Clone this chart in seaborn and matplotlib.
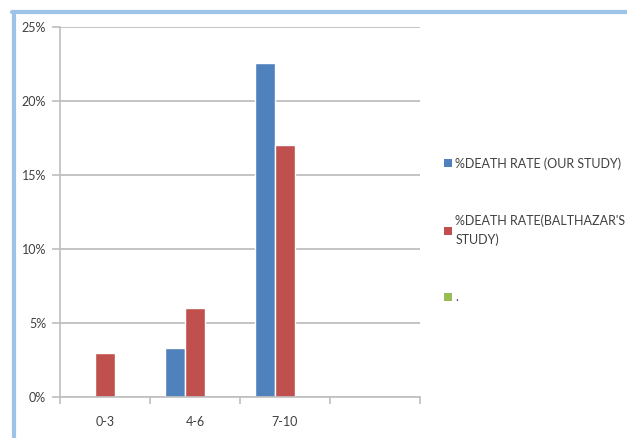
import matplotlib
matplotlib.use("Agg")
import matplotlib.pyplot as plt
import seaborn as sns
import pandas as pd
import numpy as np
from matplotlib.patches import Patch
from matplotlib.lines import Line2D
from matplotlib.ticker import PercentFormatter, FixedLocator

# Score groups on the x axis (the last slot is left empty)
groups = ["0-3", "4-6", "7-10", " "]
# Death rate in percent for each group
our_study = [0.0, 3.3, 22.6, np.nan]
balthazar_study = [3.0, 6.0, 17.0, np.nan]
blank_series = [np.nan, np.nan, np.nan, np.nan]

series_names = ["%DEATH RATE (OUR STUDY)", "%DEATH RATE(BALTHAZAR'S\nSTUDY)", "."]
colors = ["#4F81BD", "#C0504D", "#9BBB59"]

df = pd.DataFrame({
    "group": groups * 3,
    "rate": our_study + balthazar_study + blank_series,
    "series": [series_names[0]] * 4 + [series_names[1]] * 4 + [series_names[2]] * 4,
})

sns.set_theme(style="white")
plt.rcParams["font.family"] = ["Lato", "DejaVu Sans"]
text_color = "#404040"
fs = 9.0

fig = plt.figure(figsize=(6.27, 4.38), dpi=100)
W, H = 627, 438
ax = fig.add_axes([60 / W, 1 - 397 / H, 360 / W, 370 / H])

sns.barplot(data=df, x="group", y="rate", hue="series", order=groups,
            hue_order=series_names, palette=colors, width=2 / 3,
            saturation=1, legend=False, ax=ax, errorbar=None)

ax.set_xlim(-0.5, 3.5)
ax.set_ylim(0, 25)
ax.set_yticks(range(0, 26, 5))
ax.yaxis.set_major_formatter(PercentFormatter(100, decimals=0))
ax.set_xlabel("")
ax.set_ylabel("")

grid_color = "#BFBFBF"
ax.grid(axis="y", color=grid_color, linewidth=1.3)
ax.set_axisbelow(True)
for side in ["top", "right"]:
    ax.spines[side].set_visible(False)
for side in ["left", "bottom"]:
    ax.spines[side].set_color(grid_color)
    ax.spines[side].set_linewidth(1.2)

# Category boundaries carry the tick marks; labels sit at the centers
ax.xaxis.set_minor_locator(FixedLocator(np.arange(-0.5, 4.0, 1.0)))
ax.tick_params(axis="x", which="major", length=0, pad=14, labelsize=fs, labelcolor=text_color)
ax.tick_params(axis="x", which="minor", length=5, width=1.2, color=grid_color, direction="out", bottom=True)
ax.tick_params(axis="y", length=6, width=1.2, color=grid_color, direction="out", left=True,
               labelsize=fs, labelcolor=text_color, pad=4)

handles = [Patch(facecolor=c, edgecolor="none") for c in colors]
leg = fig.legend(handles, series_names, loc="upper left",
                 bbox_to_anchor=(444 / W, 1 - 157 / H), frameon=False,
                 fontsize=fs, handlelength=0.6, handleheight=0.6, handletextpad=0.3,
                 labelspacing=3.6, borderaxespad=0, borderpad=0)
for t in leg.get_texts():
    t.set_color(text_color)
    t.set_linespacing(1.65)

# Light blue frame along the left and top edges
frame = "#9DC3E6"
fig.add_artist(Line2D([13.5 / W, 13.5 / W], [0, 1 - 11.5 / H], color=frame, linewidth=3,
                      transform=fig.transFigure))
fig.add_artist(Line2D([12 / W, 1], [1 - 11.5 / H, 1 - 11.5 / H], color=frame, linewidth=3,
                      transform=fig.transFigure))

fig.savefig("out.png", dpi=100)
